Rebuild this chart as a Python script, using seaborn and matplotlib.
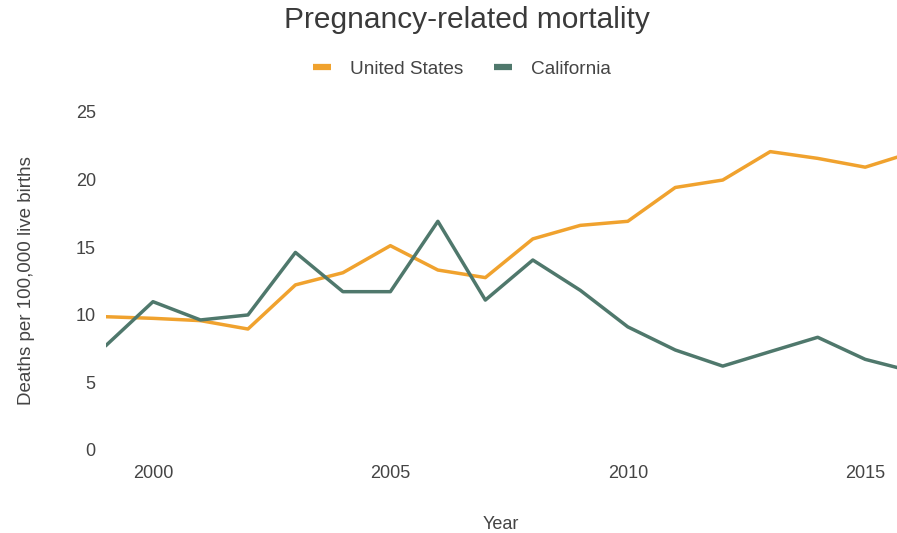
import matplotlib.pyplot as plt
import pandas as pd
import seaborn as sns

years = list(range(1999, 2017))
us_rate = [9.85, 9.73, 9.56, 8.94, 12.2, 13.1, 15.1, 13.3, 12.74, 15.6,
           16.6, 16.9, 19.4, 19.95, 22.05, 21.55, 20.9, 22.0]
ca_rate = [7.69, 10.96, 9.61, 9.98, 14.6, 11.7, 11.7, 16.9, 11.08, 14.04,
           11.8, 9.1, 7.39, 6.2, 7.27, 8.33, 6.7, 5.8]
series_names = ['United States', 'California']
colors = ['#F0A22E', '#4F786C']

df = pd.DataFrame({
    'Year': years * 2,
    'Rate': us_rate + ca_rate,
    'Region': [series_names[0]] * len(years) + [series_names[1]] * len(years),
})

sns.set_style('white')
plt.rcParams['font.family'] = ['Liberation Sans', 'DejaVu Sans']
text_color = '#444444'

fig = plt.figure(figsize=(8.97, 5.33), dpi=100)
ax = fig.add_axes([105.5 / 897, 83 / 533, 1 - 105.5 / 897, 338.3 / 533])

sns.lineplot(data=df, x='Year', y='Rate', hue='Region', hue_order=series_names,
             palette=colors, linewidth=2.5, ax=ax, legend=False)

ax.set_xlim(1999, 2015.67)
ax.set_ylim(0, 25)
ax.set_xticks([2000, 2005, 2010, 2015])
ax.set_yticks([0, 5, 10, 15, 20, 25])
ax.tick_params(axis='x', length=0, pad=11, labelsize=13, labelcolor=text_color)
ax.tick_params(axis='y', length=0, pad=7, labelsize=13, labelcolor=text_color)
for s in ax.spines.values():
    s.set_visible(False)
ax.grid(False)

ax.set_xlabel('Year', fontsize=13, color=text_color, labelpad=24)
ax.set_ylabel('Deaths per 100,000 live births', fontsize=13.5, color=text_color, labelpad=29)

fig.text(467 / 897, 1 - 20 / 533, 'Pregnancy-related mortality', ha='center', va='center',
         fontsize=21.5, color='#3a3a3a')

handles = [plt.Line2D([], [], color=c, linewidth=4.5, solid_capstyle='butt') for c in colors]
fig.legend(handles, series_names, loc='center', bbox_to_anchor=(462 / 897, 1 - 69 / 533),
           ncol=2, frameon=False, fontsize=13.7, handlelength=0.95, columnspacing=1.6,
           handletextpad=1.0, labelcolor=text_color)

fig.savefig('out.png', dpi=100)
